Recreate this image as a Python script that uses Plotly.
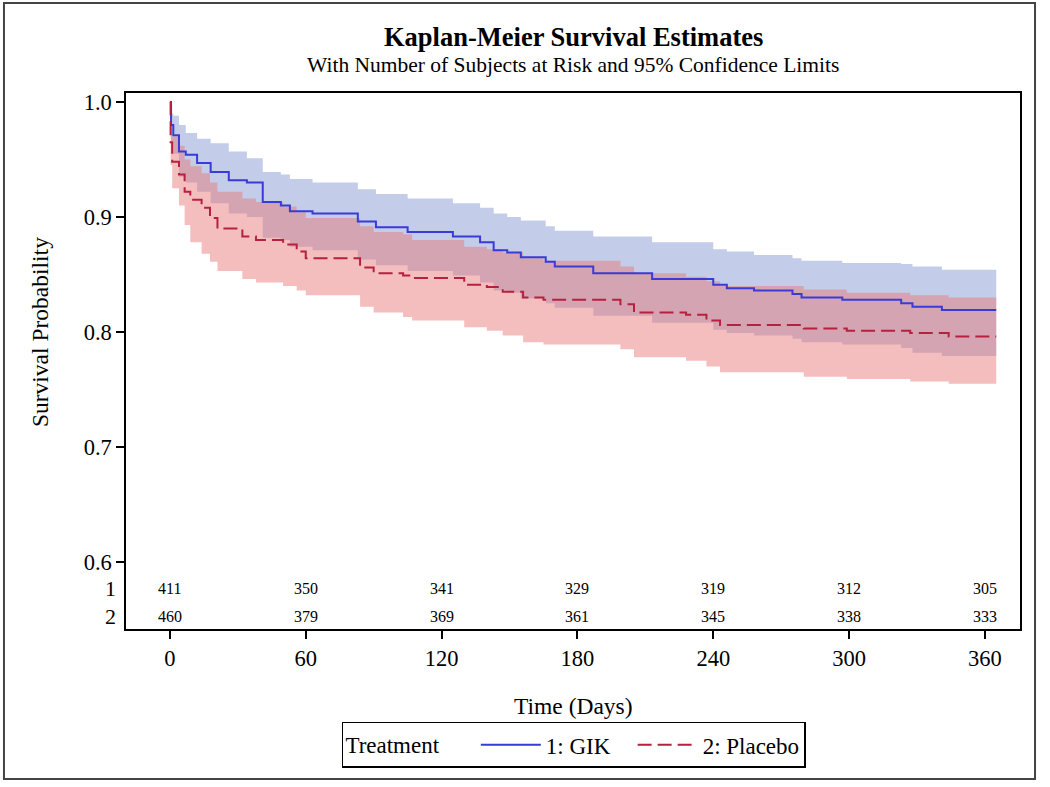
import plotly.graph_objects as go

# ---------------- data ----------------
gik_t = [0, 0.5, 1.5, 4, 7, 12, 18, 26, 34, 41, 49, 53, 63, 83, 91, 105, 125, 137, 143, 149, 155, 166, 170,
         187, 213, 240, 246, 258, 275, 279, 297, 323, 328, 341, 365]
gik_s = [1.0, 0.980, 0.971, 0.957, 0.954, 0.947, 0.939, 0.932, 0.930, 0.913, 0.910, 0.905, 0.903, 0.896, 0.891,
         0.887, 0.883, 0.878, 0.871, 0.869, 0.865, 0.861, 0.857, 0.851, 0.846, 0.841, 0.838, 0.836, 0.833, 0.830,
         0.828, 0.825, 0.822, 0.819, 0.819]
gik_lo = [1.0, 0.966, 0.955, 0.935, 0.930, 0.922, 0.912, 0.903, 0.900, 0.882, 0.880, 0.874, 0.871, 0.863, 0.858,
          0.853, 0.849, 0.843, 0.836, 0.834, 0.829, 0.825, 0.821, 0.814, 0.808, 0.802, 0.799, 0.797, 0.794, 0.791,
          0.789, 0.786, 0.782, 0.779, 0.779]
gik_hi = [1.0, 0.990, 0.988, 0.980, 0.973, 0.968, 0.964, 0.957, 0.951, 0.939, 0.937, 0.933, 0.930, 0.924, 0.920,
          0.916, 0.912, 0.908, 0.903, 0.900, 0.897, 0.892, 0.888, 0.883, 0.878, 0.872, 0.870, 0.867, 0.864, 0.862,
          0.860, 0.859, 0.857, 0.854, 0.854]

pla_t = [0, 0.3, 1, 4, 6.5, 9, 14, 17.7, 21, 32, 38, 50, 56, 60, 84, 90, 103, 107, 130, 140, 147, 156, 165,
         199, 205, 228, 237, 243, 280, 299, 327, 344, 365]
pla_s = [1.0, 0.965, 0.948, 0.937, 0.922, 0.915, 0.908, 0.899, 0.890, 0.883, 0.880, 0.876, 0.870, 0.864, 0.856,
         0.851, 0.849, 0.847, 0.841, 0.839, 0.835, 0.830, 0.828, 0.824, 0.817, 0.815, 0.810, 0.806, 0.803, 0.801,
         0.799, 0.796, 0.796]
pla_lo = [1.0, 0.945, 0.925, 0.910, 0.893, 0.878, 0.868, 0.861, 0.853, 0.846, 0.843, 0.840, 0.836, 0.832, 0.822,
          0.817, 0.813, 0.810, 0.804, 0.801, 0.797, 0.791, 0.789, 0.785, 0.778, 0.775, 0.770, 0.765, 0.761, 0.759,
          0.757, 0.755, 0.755]
pla_hi = [1.0, 0.982, 0.970, 0.962, 0.950, 0.944, 0.938, 0.930, 0.922, 0.916, 0.913, 0.909, 0.904, 0.899, 0.892,
          0.887, 0.885, 0.880, 0.874, 0.872, 0.869, 0.864, 0.862, 0.857, 0.851, 0.848, 0.844, 0.840, 0.837, 0.834,
          0.832, 0.830, 0.830]

risk_times = [0, 60, 120, 180, 240, 300, 360]
risk_gik = [411, 350, 341, 329, 319, 312, 305]
risk_pla = [460, 379, 369, 361, 345, 338, 333]

x_ticks = [0, 60, 120, 180, 240, 300, 360]
y_ticks = [0.6, 0.7, 0.8, 0.9, 1.0]
y_ticktext = ["0.6", "0.7", "0.8", "0.9", "1.0"]

# ---------------- style ----------------
FONT = "Liberation Serif, Times New Roman, serif"
BLUE = "#3a3ad6"
RED = "#b5213f"
BLUE_FILL = "rgba(135,155,212,0.50)"
RED_FILL = "rgba(232,120,120,0.48)"

fig = go.Figure()

# confidence bands
fig.add_trace(go.Scatter(x=gik_t, y=gik_lo, mode="lines", line=dict(width=0, shape="hv"),
                         showlegend=False, hoverinfo="skip"))
fig.add_trace(go.Scatter(x=gik_t, y=gik_hi, mode="lines", line=dict(width=0, shape="hv"),
                         fill="tonexty", fillcolor=BLUE_FILL, showlegend=False, hoverinfo="skip"))
fig.add_trace(go.Scatter(x=pla_t, y=pla_lo, mode="lines", line=dict(width=0, shape="hv"),
                         showlegend=False, hoverinfo="skip"))
fig.add_trace(go.Scatter(x=pla_t, y=pla_hi, mode="lines", line=dict(width=0, shape="hv"),
                         fill="tonexty", fillcolor=RED_FILL, showlegend=False, hoverinfo="skip"))

# survival curves
fig.add_trace(go.Scatter(x=gik_t, y=gik_s, mode="lines", name="1: GIK   ",
                         line=dict(color=BLUE, width=2, shape="hv")))
fig.add_trace(go.Scatter(x=pla_t, y=pla_s, mode="lines", name="2: Placebo",
                         line=dict(color=RED, width=2, shape="hv", dash="14px,6px")))

annotations = []
for t, a, b in zip(risk_times, risk_gik, risk_pla):
    annotations.append(dict(x=t, y=0.5765, xref="x", yref="y", text=str(a), showarrow=False,
                            font=dict(family=FONT, size=16, color="black")))
    annotations.append(dict(x=t, y=0.5522, xref="x", yref="y", text=str(b), showarrow=False,
                            font=dict(family=FONT, size=16, color="black")))
for lab, yv in (("1", 0.5765), ("2", 0.5522)):
    annotations.append(dict(x=0, y=yv, xref="paper", yref="y", text=lab, showarrow=False,
                            xanchor="right", xshift=-8, font=dict(family=FONT, size=22, color="black")))

annotations.append(dict(x=-0.0962, y=0.554, xref="paper", yref="paper", text="Survival Probability",
                        textangle=-90, showarrow=False, xanchor="center", yanchor="middle",
                        font=dict(family=FONT, size=23.5, color="black")))
annotations.append(dict(x=0.5, y=-0.1437, xref="paper", yref="paper", text="Time (Days)",
                        showarrow=False, xanchor="center", yanchor="middle",
                        font=dict(family=FONT, size=23.5, color="black")))
annotations.append(dict(x=0.5, y=1.104, xref="paper", yref="paper",
                        text="<b>Kaplan-Meier Survival Estimates</b>", showarrow=False,
                        xanchor="center", yanchor="middle", font=dict(family=FONT, size=26.5, color="black")))
annotations.append(dict(x=0.5, y=1.052, xref="paper", yref="paper",
                        text="With Number of Subjects at Risk and 95% Confidence Limits", showarrow=False,
                        xanchor="center", yanchor="middle", font=dict(family=FONT, size=21.5, color="black")))

fig.update_layout(
    width=1050, height=787,
    margin=dict(l=126, r=30, t=93, b=158),
    paper_bgcolor="white", plot_bgcolor="white",
    font=dict(family=FONT, size=22, color="black"),
    annotations=annotations,
    showlegend=True,
    legend=dict(orientation="h", x=0.501, y=-0.216, xanchor="center", yanchor="middle",
                traceorder="normal",
                title=dict(text="Treatment     ", font=dict(family=FONT, size=23)),
                font=dict(family=FONT, size=23),
                bordercolor="black", borderwidth=1.5, itemwidth=60, bgcolor="white"),
    shapes=[dict(type="rect", xref="paper", yref="paper", x0=-0.1365, x1=1.0168, y0=-0.2799, y1=1.168,
                 line=dict(color="#444", width=2), fillcolor="rgba(0,0,0,0)", layer="below")],
)

fig.update_xaxes(range=[-19.4, 375.5], tickvals=x_ticks, ticks="outside", ticklen=8, tickwidth=1.5,
                 tickcolor="black", showline=True, linecolor="black", linewidth=1.5, mirror=True,
                 showgrid=False, zeroline=False, tickfont=dict(family=FONT, size=22.5))
fig.update_yaxes(range=[0.5417, 1.0078], tickvals=y_ticks, ticktext=y_ticktext, ticks="outside", ticklen=8,
                 tickwidth=1.5, tickcolor="black", showline=True, linecolor="black", linewidth=1.5, mirror=True,
                 showgrid=False, zeroline=False, tickfont=dict(family=FONT, size=22.5))

fig.write_html("out.html", config={"displayModeBar": False},
               post_script="document.body.style.margin='0px';")
